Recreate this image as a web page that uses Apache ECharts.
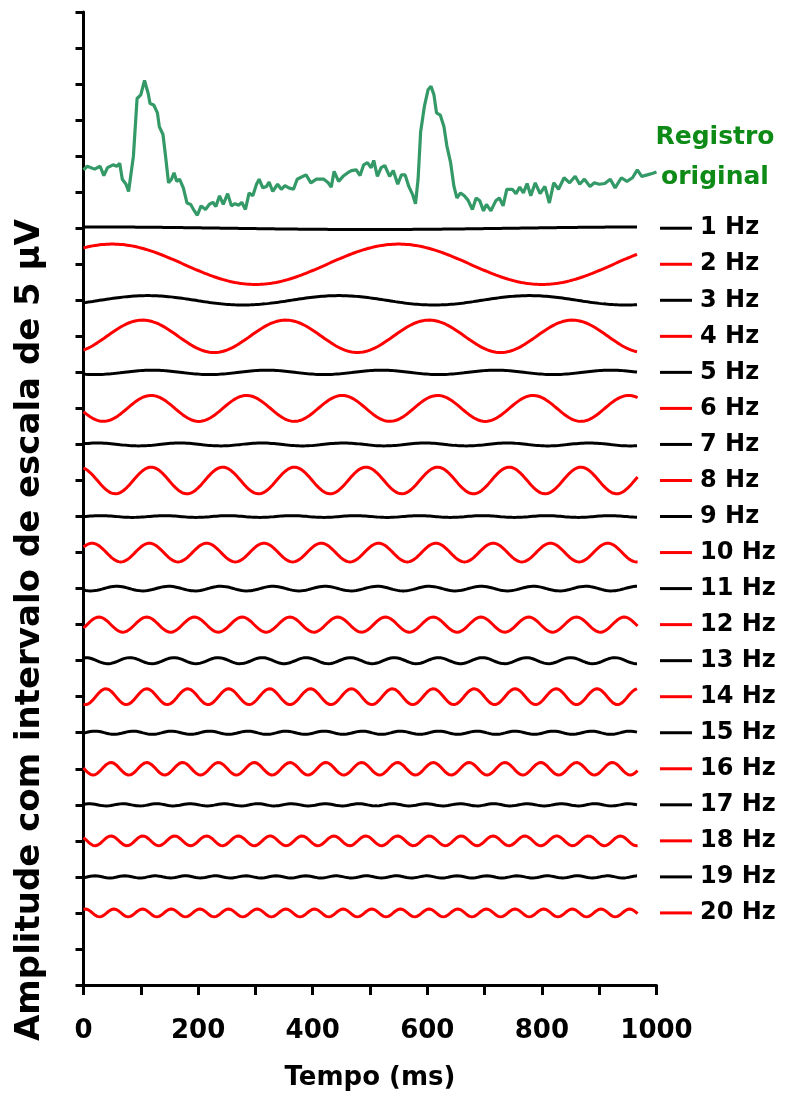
<!DOCTYPE html>
<html>
<head>
<meta charset="utf-8">
<script src="https://cdn.jsdelivr.net/npm/echarts@6/dist/echarts.min.js"></script>
<style>
  html, body { margin: 0; padding: 0; background: #fff; }
  #main { width: 787px; height: 1104px; }
</style>
</head>
<body>
<div id="main"></div>
<script>
// components: frequency, amplitude (uV), time of first crest (ms), baseline (uV)
var freqs = [1, 2, 3, 4, 5, 6, 7, 8, 9, 10, 11, 12, 13, 14, 15, 16, 17, 18, 19, 20];
var amps = [0.18, 2.8, 0.65, 2.25, 0.3, 1.8, 0.2, 1.85, 0.12, 1.3, 0.32, 1.05, 0.42, 1.1, 0.22, 0.87, 0.15, 0.68, 0.15, 0.55];
var crestMs = [0, 50, 112, 103, 120, 118, 25, 118, 30, 15, 58, 27, 4, 39, 20, 48, 10, 48, 20, 3];
var baselines = [105, 100, 95, 90, 85, 80, 75, 70, 65, 60, 55, 50, 45, 40, 35, 30, 25, 20, 15, 10];
var endMs = 967;

// original record [ms, uV]
var original = [
  [0,113.1],[6.5,113.6],[19.4,113.2],[29,113.6],[35.5,112.3],[41.9,113.4],[51.6,113.8],[58,113.6],
  [63.2,114.0],[67.7,111.8],[74.2,111.1],[78.7,110.1],[81.9,110.0],[87.1,115.0],[93.5,123.0],[100,123.5],
  [106.5,125.5],[112.9,123.7],[116.1,122.3],[122.6,122.1],[129,121.0],[132.3,119.1],[138.7,118.0],[143.2,115.0],
  [148.4,111.3],[153.6,111.8],[158.1,112.7],[162.6,111.5],[167.7,111.8],[174.2,110.6],[180.6,108.5],[187.1,108.3],
  [193.5,107.4],[198.7,106.8],[205.2,108.1],[212.9,107.6],[219.4,108.3],[225.8,108.6],[231,108.0],[237.4,109.5],
  [243.9,108.3],[251.6,109.8],[258.1,108.1],[264.5,108.4],[271,108.2],[276.1,108.6],[282.6,107.6],[289,109.9],
  [295.5,109.5],[301.9,111.1],[306.5,111.8],[312.9,110.6],[319.4,110.8],[323.9,111.4],[330.3,110.1],[338.7,111.1],
  [345.2,110.4],[351.6,110.9],[358.1,110.6],[366.5,110.4],[372.9,111.8],[380.6,112.1],[388.4,112.4],[396.8,111.3],
  [406.5,111.8],[419.4,111.8],[427.1,111.3],[432.3,110.7],[437.4,112.9],[445.2,111.5],[452.9,112.2],[461.3,112.7],
  [467.7,113.0],[476.1,113.1],[482.6,112.3],[489,113.8],[495.5,114.1],[502,113.4],[506.5,114.4],[512.9,112.2],
  [519.4,113.4],[525.8,113.7],[534.2,112.2],[540.6,113.0],[548.4,111.1],[554.8,112.4],[561.3,112.4],[567.7,110.8],
  [574.2,109.7],[579.4,108.4],[583.9,111.8],[588.4,118.4],[594.9,121.9],[601.3,124.2],[606.5,124.7],[611.6,123.5],
  [616.1,121.0],[622.6,120.7],[629,119.1],[634.2,116.4],[640.7,114.1],[646.5,110.8],[651.6,109.2],[658.1,109.9],
  [664.6,109.5],[671,108.9],[678.7,107.6],[685.2,109.2],[691.6,108.8],[698.1,107.4],[703.2,108.3],[711,107.4],
  [719.4,108.8],[725.8,109.2],[732.3,108.1],[738.7,110.4],[748.4,110.4],[754.8,109.8],[761.3,110.7],[767.7,109.9],
  [774.2,111.2],[780.6,109.5],[788.4,111.3],[796.8,109.8],[805.2,110.8],[813,108.5],[820.6,111.3],[829,110.4],
  [838.7,112.0],[848.4,111.3],[858.1,112.2],[865.9,111.1],[874.2,111.8],[883.9,110.8],[891.6,111.3],[900,111.1],
  [909.7,111.2],[919.4,111.8],[927.8,110.6],[938.7,112.0],[948.4,111.5],[958.1,112.0],[966.5,113.1],[974.2,112.2],
  [983.9,112.4],[992.3,112.6],[1000,112.8]
];

var FONT = '"DejaVu Sans", sans-serif';
var chart = echarts.init(document.getElementById('main'));

var series = [{
  name: 'Registro original',
  type: 'line',
  data: original,
  showSymbol: false,
  lineStyle: { color: '#339966', width: 3.2 },
  z: 3
}];

for (var i = 0; i < freqs.length; i++) {
  var pts = [];
  for (var t = 0; t <= endMs; t++) {
    pts.push([t, baselines[i] + amps[i] * Math.cos(2 * Math.PI * freqs[i] * (t - crestMs[i]) / 1000)]);
  }
  series.push({
    name: freqs[i] + ' Hz',
    type: 'line',
    data: pts,
    showSymbol: false,
    lineStyle: { color: i % 2 === 0 ? '#000000' : '#ff0000', width: 3 }
  });
}

chart.setOption({
  animation: false,
  backgroundColor: '#fff',
  grid: { left: 83.5, right: 130.5, top: 12, bottom: 119, containLabel: false },
  xAxis: {
    type: 'value',
    min: 0, max: 1000, interval: 100,
    name: 'Tempo (ms)',
    nameLocation: 'middle',
    nameGap: 80,
    nameTextStyle: { color: '#000', fontSize: 26, fontWeight: 'bold', fontFamily: FONT },
    axisLine: { lineStyle: { color: '#000', width: 3 } },
    axisTick: { inside: false, length: 10, lineStyle: { color: '#000', width: 3 } },
    axisLabel: {
      margin: 33, color: '#000', fontSize: 26, fontWeight: 'bold', fontFamily: FONT,
      formatter: function (v) { return v % 200 === 0 ? String(v) : ''; }
    },
    splitLine: { show: false }
  },
  yAxis: {
    type: 'value',
    min: 0, max: 135, interval: 5,
    axisLine: { show: true, lineStyle: { color: '#000', width: 3 } },
    axisTick: { show: true, inside: false, length: 8, lineStyle: { color: '#000', width: 3 } },
    axisLabel: { show: false },
    splitLine: { show: false }
  },
  series: series
});

// labels on the right, aligned to each trace baseline
var graphics = [{
  type: 'text',
  x: 30, y: 630,
  rotation: Math.PI / 2,
  style: {
    text: 'Amplitude com intervalo de escala de 5 µV',
    fontSize: 34, fontWeight: 'bold', fontFamily: FONT, fill: '#000',
    align: 'center', verticalAlign: 'middle', textAlign: 'center', textVerticalAlign: 'middle'
  }
}, {
  type: 'text',
  x: 715, y: 157,
  style: {
    text: 'Registro\noriginal',
    lineHeight: 40,
    fontSize: 25, fontWeight: 'bold', fontFamily: FONT, fill: '#0e8a16',
    align: 'center', verticalAlign: 'middle', textAlign: 'center', textVerticalAlign: 'middle'
  }
}];

for (var k = 0; k < freqs.length; k++) {
  var py = chart.convertToPixel({ gridIndex: 0 }, [1000, baselines[k]])[1];
  var col = k % 2 === 0 ? '#000000' : '#ff0000';
  graphics.push({
    type: 'line',
    shape: { x1: 660, y1: py, x2: 692, y2: py },
    style: { stroke: col, lineWidth: 3 }
  });
  graphics.push({
    type: 'text',
    x: 700, y: py,
    style: {
      text: freqs[k] + ' Hz',
      fontSize: 24, fontWeight: 'bold', fontFamily: FONT, fill: '#000',
      align: 'left', verticalAlign: 'middle', textAlign: 'left', textVerticalAlign: 'middle'
    }
  });
}

chart.setOption({ graphic: graphics });
</script>
</body>
</html>
